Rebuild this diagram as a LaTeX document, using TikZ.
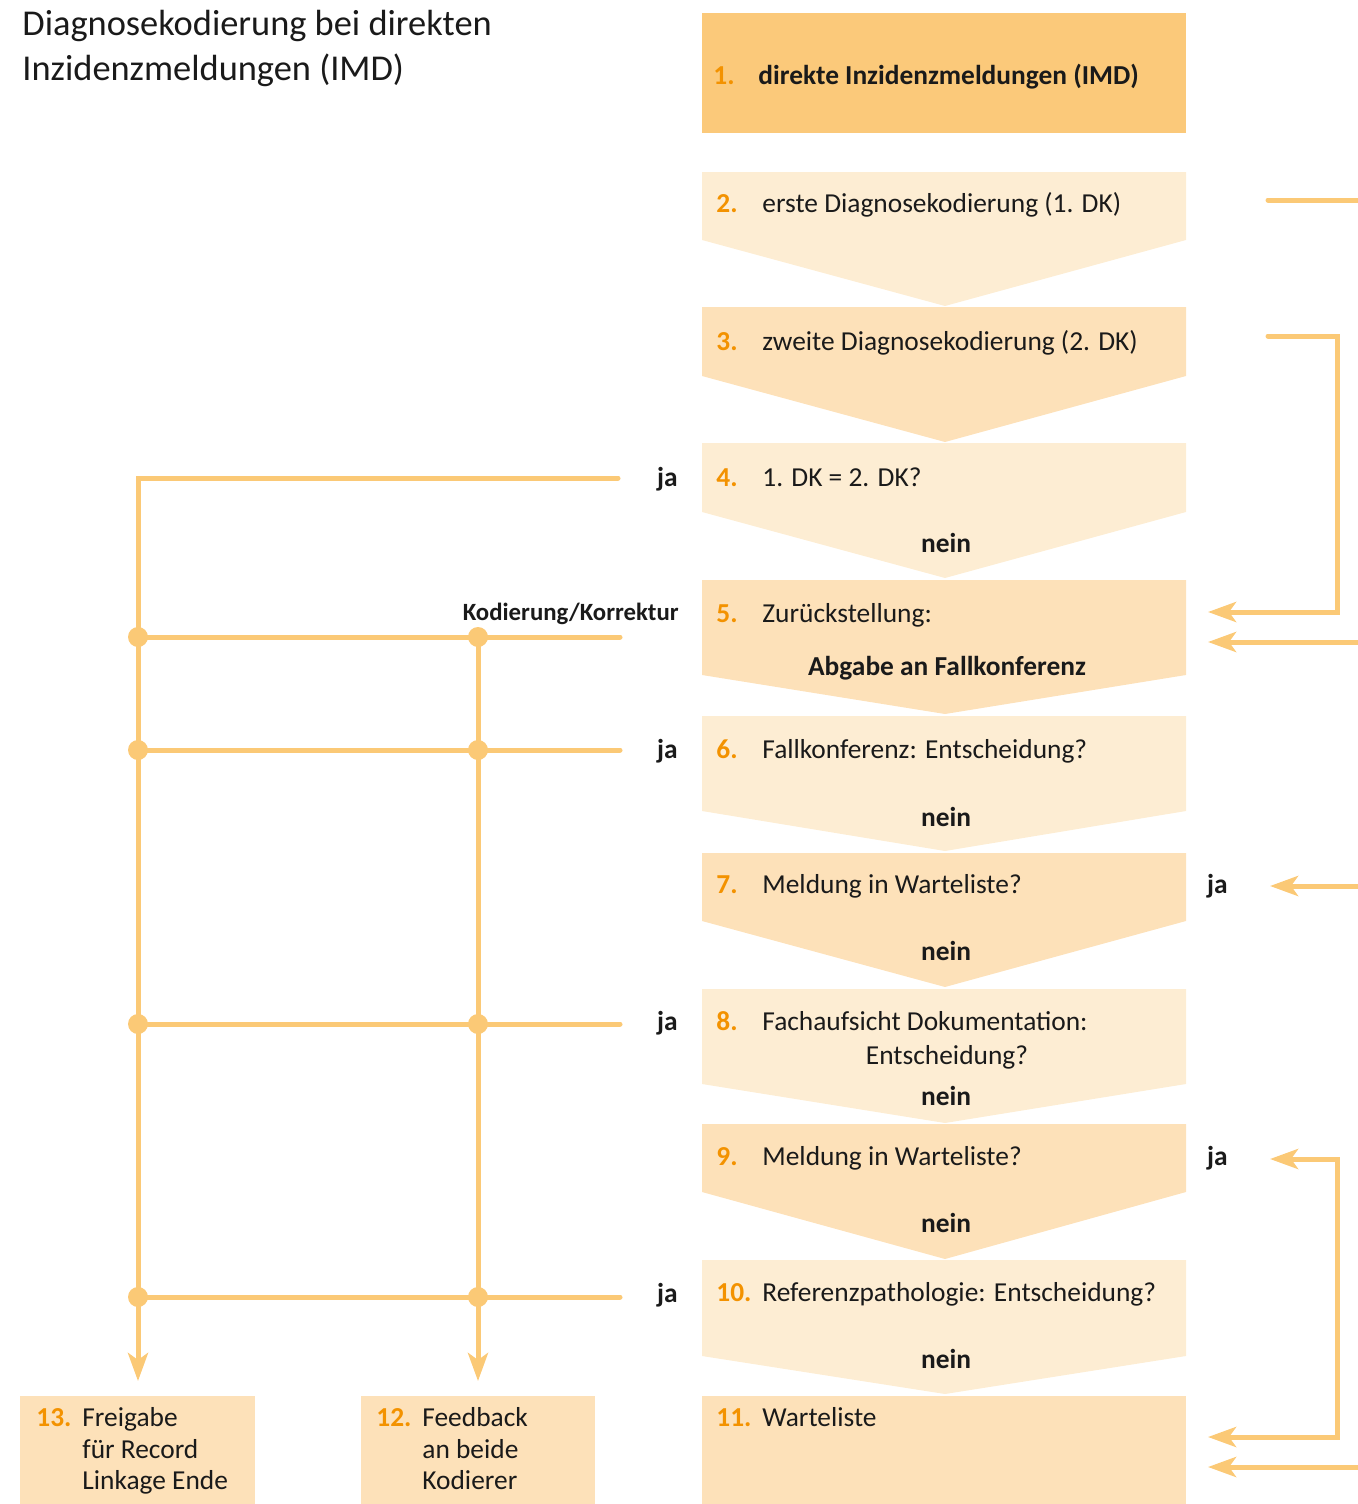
\documentclass[tikz,border=0pt]{standalone}
\usepackage{fontspec}
\setmainfont{Carlito}
\usetikzlibrary{arrows.meta}
\definecolor{boxdark}{HTML}{FBC97A}
\definecolor{boxlight}{HTML}{FDEDD3}
\definecolor{boxmid}{HTML}{FDE1B9}
\definecolor{linec}{HTML}{FBC976}
\definecolor{numc}{HTML}{F39200}
\definecolor{txt}{HTML}{1A1A1A}
\newcommand\chevbox[4]{\fill[#4] (702,#1) -- (1186,#1) -- (1186,#2) -- (945,#3) -- (702,#2) -- cycle;}
\begin{document}
\begin{tikzpicture}[x=0.5pt,y=-0.5pt,
  txtlbl/.style={inner sep=0pt, anchor=base west, font=\fontsize{13.7}{16}\selectfont, text=txt},
  numlbl/.style={inner sep=0pt, anchor=base west, font=\fontsize{13.7}{16}\selectfont\bfseries, text=numc},
  boldc/.style={inner sep=0pt, anchor=base, font=\fontsize{13.7}{16}\selectfont\bfseries, text=txt},
  boldw/.style={inner sep=0pt, anchor=base west, font=\fontsize{13.7}{16}\selectfont\bfseries, text=txt},
  plainc/.style={inner sep=0pt, anchor=base, font=\fontsize{13.7}{16}\selectfont, text=txt},
  jalbl/.style={inner sep=0pt, anchor=base east, font=\fontsize{13.7}{16}\selectfont\bfseries, text=txt},
  kklbl/.style={inner sep=0pt, anchor=base east, font=\fontsize{12.4}{15}\selectfont\bfseries, text=txt},
  titlelbl/.style={inner sep=0pt, anchor=base west, font=\fontsize{18.2}{23}\selectfont, text=txt},
  conn/.style={draw=linec, line width=2.5pt, line cap=round},
  arr/.style={conn, -{Stealth[length=14pt,width=10pt,inset=3.5pt]}},
  darr/.style={conn, {Stealth[length=14pt,width=10pt,inset=3.5pt]}-{Stealth[length=14pt,width=10pt,inset=3.5pt]}},
  jdot/.style={circle, fill=linec, inner sep=0pt, minimum size=10pt},
]
\useasboundingbox (0,0) rectangle (1357,1504);

% title
\node[titlelbl] (t1) at (22,36) {Diagnosekodierung bei direkten};
\node[titlelbl] (t2) at (22,81) {Inzidenzmeldungen (IMD)};

% main column boxes
\fill[boxdark] (702,13) rectangle (1186,133);
\chevbox{172}{240}{306}{boxlight}
\chevbox{307}{376}{442}{boxmid}
\chevbox{443}{512}{578}{boxlight}
\chevbox{580}{675}{714}{boxmid}
\chevbox{716}{811}{851}{boxlight}
\chevbox{853}{921}{987}{boxmid}
\chevbox{989}{1084}{1123}{boxlight}
\chevbox{1124}{1192}{1259}{boxmid}
\chevbox{1260}{1356}{1394}{boxlight}
\fill[boxmid] (702,1396) rectangle (1186,1504);
\fill[boxmid] (20,1396) rectangle (255,1504);
\fill[boxmid] (361,1396) rectangle (595,1504);

% box texts
\node[numlbl] (n1) at (713,85) {1.};
\node[boldw] (l1) at (758,85) {direkte Inzidenzmeldungen (IMD)};
\node[numlbl] (n2) at (716,213) {2.};
\node[txtlbl] (l2) at (762,213) {erste Diagnosekodierung (1. DK)};
\node[numlbl] (n3) at (716,350) {3.};
\node[txtlbl] (l3) at (762,350) {zweite Diagnosekodierung (2. DK)};
\node[numlbl] (n4) at (716,486) {4.};
\node[txtlbl] (l4) at (762,486) {1. DK = 2. DK?};
\node[boldc] (no4) at (946,552) {nein};
\node[numlbl] (n5) at (716,622) {5.};
\node[txtlbl] (l5) at (762,622) {Zurückstellung:};
\node[boldc] (l5b) at (947,675) {Abgabe an Fallkonferenz};
\node[numlbl] (n6) at (716,758) {6.};
\node[txtlbl] (l6) at (762,758) {Fallkonferenz: Entscheidung?};
\node[boldc] (no6) at (946,826) {nein};
\node[numlbl] (n7) at (716,893) {7.};
\node[txtlbl] (l7) at (762,893) {Meldung in Warteliste?};
\node[boldc] (no7) at (946,960) {nein};
\node[numlbl] (n8) at (716,1030) {8.};
\node[txtlbl] (l8) at (762,1030) {Fachaufsicht Dokumentation:};
\node[plainc] (l8b) at (947,1064) {Entscheidung?};
\node[boldc] (no8) at (946,1105) {nein};
\node[numlbl] (n9) at (716,1165) {9.};
\node[txtlbl] (l9) at (762,1165) {Meldung in Warteliste?};
\node[boldc] (no9) at (946,1232) {nein};
\node[numlbl] (n10) at (716,1301) {10.};
\node[txtlbl] (l10) at (762,1301) {Referenzpathologie: Entscheidung?};
\node[boldc] (no10) at (946,1368) {nein};
\node[numlbl] (n11) at (716,1426) {11.};
\node[txtlbl] (l11) at (762,1426) {Warteliste};

\node[numlbl] (n13) at (36,1426) {13.};
\node[txtlbl] (l13a) at (82,1426) {Freigabe};
\node[txtlbl] (l13b) at (82,1458) {für Record};
\node[txtlbl] (l13c) at (82,1489) {Linkage Ende};
\node[numlbl] (n12) at (376,1426) {12.};
\node[txtlbl] (l12a) at (422,1426) {Feedback};
\node[txtlbl] (l12b) at (422,1458) {an beide};
\node[txtlbl] (l12c) at (422,1489) {Kodierer};

% left labels
\node[jalbl] (ja4) at (678,486) {ja};
\node[kklbl] (kk) at (679,620) {Kodierung/Korrektur};
\node[jalbl] (ja6) at (678,758) {ja};
\node[jalbl] (ja8) at (678,1030) {ja};
\node[jalbl] (ja10) at (678,1302) {ja};
% right labels
\node[jalbl] (ja7) at (1228,893) {ja};
\node[jalbl] (ja9) at (1228,1165) {ja};

% coordinates for connectors
\coordinate (e4) at (618,478);
\coordinate (e5) at (620,637);
\coordinate (e6) at (620,750);
\coordinate (e8) at (620,1024);
\coordinate (e10) at (620,1297);
\coordinate (cA) at (138,478);
\coordinate (tA) at (138,1381);
\coordinate (sB) at (478,637);
\coordinate (tB) at (478,1381);
\coordinate (jA5) at (138,637);
\coordinate (jA6) at (138,750);
\coordinate (jA8) at (138,1024);
\coordinate (jA10) at (138,1297);
\coordinate (jB6) at (478,750);
\coordinate (jB8) at (478,1024);
\coordinate (jB10) at (478,1297);

\coordinate (r2a) at (1268,200);
\coordinate (r2b) at (1362,200);
\coordinate (r3a) at (1268,336);
\coordinate (r3c) at (1337,336);
\coordinate (r3d) at (1337,612);
\coordinate (r5a) at (1208,612);
\coordinate (r5bs) at (1362,642);
\coordinate (r5b) at (1208,642);
\coordinate (r7s) at (1362,886);
\coordinate (r7) at (1270,886);
\coordinate (r9) at (1270,1159);
\coordinate (r9c) at (1337,1159);
\coordinate (r11c) at (1337,1437);
\coordinate (r11a) at (1208,1437);
\coordinate (r11bs) at (1362,1467);
\coordinate (r11b) at (1208,1467);

% left connectors
\draw[arr] (e4) -- (cA) -- (tA);
\draw[arr] (sB) -- (tB);
\draw[conn] (jA5) -- (e5);
\draw[conn] (jA6) -- (e6);
\draw[conn] (jA8) -- (e8);
\draw[conn] (jA10) -- (e10);
\foreach \p in {jA5,sB,jA6,jB6,jA8,jB8,jA10,jB10}
  \node[jdot] at (\p) {};

% right connectors
\draw[conn] (r2a) -- (r2b);
\draw[arr] (r3a) -- (r3c) -- (r3d) -- (r5a);
\draw[arr] (r5bs) -- (r5b);
\draw[arr] (r7s) -- (r7);
\draw[darr] (r9) -- (r9c) -- (r11c) -- (r11a);
\draw[arr] (r11bs) -- (r11b);
\end{tikzpicture}
\end{document}
